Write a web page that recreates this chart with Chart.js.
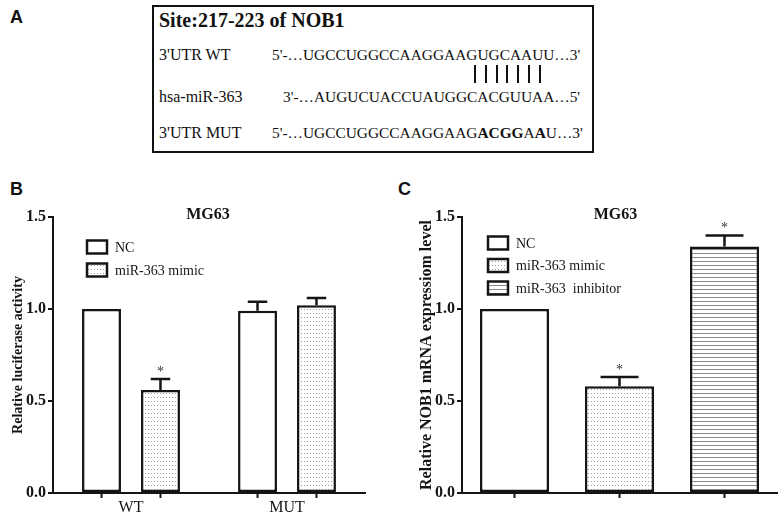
<!DOCTYPE html>
<html><head><meta charset="utf-8">
<script src="https://cdn.jsdelivr.net/npm/chart.js@4"></script>
<style>
html,body{margin:0;padding:0;background:#fff;width:778px;height:517px;overflow:hidden;}
#wrap{position:relative;width:778px;height:517px;background:#fff;}
.lab{position:absolute;font-family:"Liberation Sans",Arial,sans-serif;font-weight:bold;font-size:18px;line-height:1;color:#111;}
#boxA{position:absolute;left:152px;top:5px;width:442px;height:148px;border:2px solid #111;box-sizing:border-box;}
.t{position:absolute;font-family:"Liberation Serif","Times New Roman",serif;color:#111;white-space:pre;line-height:1;font-size:16px;}
.s{font-size:15.4px;}
.vl{position:absolute;width:2px;background:#111;}
canvas{position:absolute;}
</style></head>
<body><div id="wrap">
<div class="lab" style="left:10px;top:8px">A</div>
<div class="lab" style="left:10px;top:180px">B</div>
<div class="lab" style="left:398px;top:180px">C</div>
<div id="boxA"></div>
<div class="t" style="left:159px;top:10px;font-size:20px;font-weight:bold">Site:217-223 of NOB1</div>
<div class="t" style="left:159px;top:47px">3'UTR WT</div>
<div class="t s" style="left:272px;top:47px">5'-…UGCCUGGCCAAGGAAGUGCAAUU…3'</div>
<div class="t" style="left:159px;top:89px">hsa-miR-363</div>
<div class="t s" style="left:283px;top:89px">3'-…AUGUCUACCUAUGGCACGUUAA…5'</div>
<div class="t" style="left:159px;top:125px">3'UTR MUT</div>
<div class="t s" style="left:272px;top:125px">5'-…UGCCUGGCCAAGGAAG<b>ACGG</b>A<b>A</b>U…3'</div>
<div id="pairs"></div>
<canvas id="cb" width="380" height="357" style="left:0;top:160px;width:380px;height:357px"></canvas>
<canvas id="cc" width="398" height="357" style="left:380px;top:160px;width:398px;height:357px"></canvas>
</div>
<script>
// ---------- data ----------
const bCategories = ['WT', 'MUT'];
const bSeries = ['NC', 'miR-363 mimic'];
const bNC = [1.00, 0.99];
const bNCErr = [0, 0.05];
const bMimic = [0.56, 1.02];
const bMimicErr = [0.06, 0.04];
const bNCSig = [false, false];
const bMimicSig = [true, false];

const cGroups = ['NC', 'miR-363 mimic', 'miR-363  inhibitor'];
const cValues = [1.00, 0.58, 1.34];
const cErrors = [0, 0.05, 0.06];
const cSig = [false, true, true];

const yTicks = [0, 0.5, 1.0, 1.5];
const panelTitle = 'MG63';
const bYTitle = 'Relative luciferase activity';
const cYTitle = 'Relative NOB1 mRNA expressiom level';

// ---------- base-pair lines in panel A ----------
(function(){
  const host = document.getElementById('pairs');
  for (let i = 0; i < 7; i++) {
    const d = document.createElement('div');
    d.className = 'vl';
    d.style.left = (474 + i * 10.8) + 'px';
    d.style.top = '65px';
    d.style.height = '18px';
    host.appendChild(d);
  }
})();

// ---------- patterns ----------
function makePattern(w, h, draw) {
  const c = document.createElement('canvas');
  c.width = w; c.height = h;
  const x = c.getContext('2d');
  x.fillStyle = '#fff'; x.fillRect(0, 0, w, h);
  draw(x);
  return x.createPattern(c, 'repeat');
}
const dots = makePattern(3, 4, x => { x.fillStyle = '#9e9e9e'; x.fillRect(1, 1, 1, 1); });
const lines = makePattern(4, 4, x => { x.fillStyle = '#8a8a8a'; x.fillRect(0, 1, 4, 1); });

const INK = '#151515';
const SERIF = '"Liberation Serif","Times New Roman",serif';

// ---------- decoration plugin: error bars, asterisks, ticks, legend, title ----------
const deco = {
  id: 'deco',
  afterDatasetsDraw(chart, args, o) {
    const { ctx, chartArea: ca, scales: { y } } = chart;
    ctx.save();
    chart.data.datasets.forEach((ds, di) => {
      const meta = chart.getDatasetMeta(di);
      meta.data.forEach((el, i) => {
        const v = ds.data[i];
        if (v == null) return;
        const e = ds.errors ? ds.errors[i] : 0;
        let topY = el.y;
        ctx.strokeStyle = INK; ctx.lineWidth = 2.5; ctx.lineCap = 'butt';
        if (e > 0) {
          topY = y.getPixelForValue(v + e);
          const cw = el.width * o.capRatio / 2;
          ctx.beginPath();
          ctx.moveTo(el.x, el.y); ctx.lineTo(el.x, topY);
          ctx.moveTo(el.x - cw, topY); ctx.lineTo(el.x + cw, topY);
          ctx.stroke();
        }
        if (ds.sig && ds.sig[i]) {
          ctx.fillStyle = '#333';
          ctx.font = '14px ' + SERIF;
          ctx.textAlign = 'center'; ctx.textBaseline = 'alphabetic';
          ctx.fillText('*', el.x, topY - 3);
        }
        // x tick mark under each bar
        ctx.strokeStyle = INK; ctx.lineWidth = 2;
        ctx.beginPath();
        ctx.moveTo(el.x, ca.bottom); ctx.lineTo(el.x, ca.bottom + 5);
        ctx.stroke();
      });
    });
    // title
    ctx.fillStyle = INK;
    ctx.font = 'bold 16px ' + SERIF;
    ctx.textAlign = 'center'; ctx.textBaseline = 'middle';
    ctx.fillText(o.title, (ca.left + ca.right) / 2 + o.titleDx, ca.top - 2);
    // legend
    chart.data.datasets.forEach((ds, di) => {
      const bx = ca.left + o.legX, by = ca.top + o.legY + di * o.legGap;
      ctx.fillStyle = ds.backgroundColor;
      ctx.fillRect(bx, by - 6.5, 20, 13);
      ctx.strokeStyle = INK; ctx.lineWidth = 2.5;
      ctx.strokeRect(bx, by - 6.5, 20, 13);
      ctx.fillStyle = INK;
      ctx.font = '14px ' + SERIF;
      ctx.textAlign = 'left'; ctx.textBaseline = 'middle';
      ctx.fillText(ds.label, bx + 28, by + 1);
    });
    ctx.restore();
  }
};

function yAxis(text, size, pad, width) {
  return {
    min: 0, max: 1.5,
    afterBuildTicks: s => { s.ticks = yTicks.map(v => ({ value: v })); },
    ticks: { font: { family: SERIF, weight: 'bold', size: 16 }, color: INK, padding: 2,
             callback: v => Number(v).toFixed(1) },
    grid: { display: true, drawOnChartArea: false, tickLength: 5, color: INK, lineWidth: 2 },
    border: { display: true, color: INK, width: 2 },
    title: { display: true, text: text, color: INK,
             font: { family: SERIF, weight: 'bold', size: size }, padding: { top: pad, bottom: 0 } },
    afterFit: s => { s.width = width; }
  };
}
function xAxis(showLabels) {
  return {
    grid: { display: false, drawTicks: false },
    border: { display: true, color: INK, width: 2 },
    ticks: { display: showLabels, font: { family: SERIF, size: 16 }, color: INK, padding: 5 },
    afterFit: s => { s.height = 24; }
  };
}

// ---------- chart B ----------
new Chart(document.getElementById('cb'), {
  type: 'bar',
  data: {
    labels: bCategories,
    datasets: [
      { label: bSeries[0], data: bNC, errors: bNCErr, sig: bNCSig,
        backgroundColor: '#ffffff', borderColor: INK, borderWidth: 2.5 },
      { label: bSeries[1], data: bMimic, errors: bMimicErr, sig: bMimicSig,
        backgroundColor: dots, borderColor: INK, borderWidth: 2.5 }
    ]
  },
  options: {
    responsive: false, animation: false, devicePixelRatio: 1,
    layout: { padding: { top: 57, right: 15, bottom: 0, left: 0 } },
    datasets: { bar: { categoryPercentage: 0.756, barPercentage: 0.66, borderSkipped: false } },
    scales: { x: xAxis(true), y: yAxis(bYTitle, 14, 10, 53) },
    plugins: {
      legend: { display: false }, tooltip: { enabled: false },
      deco: { title: panelTitle, titleDx: -1, legX: 34, legY: 30, legGap: 23, capRatio: 0.5 }
    }
  },
  plugins: [deco]
});

// ---------- chart C ----------
new Chart(document.getElementById('cc'), {
  type: 'bar',
  data: {
    labels: cGroups,
    datasets: cGroups.map((g, i) => ({
      label: g,
      data: cValues.map((v, j) => (j === i ? v : null)),
      errors: cErrors.map((v, j) => (j === i ? v : 0)),
      sig: cSig.map((v, j) => (j === i ? v : false)),
      backgroundColor: [ '#ffffff', dots, lines ][i],
      borderColor: INK, borderWidth: 2.5
    }))
  },
  options: {
    responsive: false, animation: false, devicePixelRatio: 1,
    skipNull: true,
    layout: { padding: { top: 57, right: 1, bottom: 0, left: 0 } },
    datasets: { bar: { categoryPercentage: 1, barPercentage: 0.657, borderSkipped: false, skipNull: true } },
    scales: { x: xAxis(false), y: yAxis(cYTitle, 16, 37, 82) },
    plugins: {
      legend: { display: false }, tooltip: { enabled: false },
      deco: { title: panelTitle, titleDx: -4, legX: 26, legY: 26, legGap: 22.5, capRatio: 0.55 }
    }
  },
  plugins: [deco]
});
</script>
</body></html>
